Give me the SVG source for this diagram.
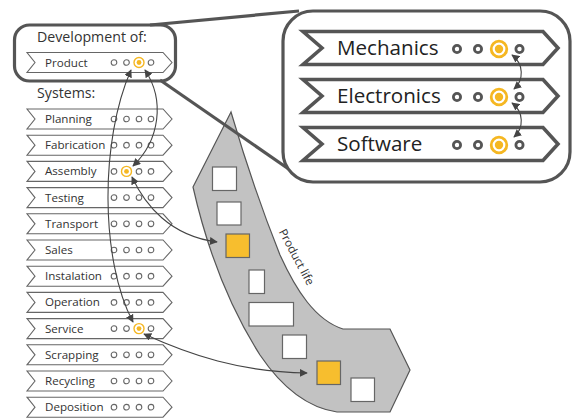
<svg xmlns="http://www.w3.org/2000/svg" width="573" height="418" viewBox="0 0 573 418">
  <style>
    .frame { fill: none; stroke: #555; stroke-width: 3.2; }
    .callout { fill: none; stroke: #555; stroke-width: 3.2; }
    .row { fill: #fff; stroke: #666; stroke-width: 1.1; }
    .bigrow { fill: #fff; stroke: #555; stroke-width: 3.6; }
    .lbl { font-family: "Open Sans", "Liberation Sans", sans-serif; font-size: 11.6px; fill: #333; }
    .head { font-family: "Open Sans", "Liberation Sans", sans-serif; font-size: 14.2px; fill: #333; }
    .big { font-family: "Open Sans", "Liberation Sans", sans-serif; font-size: 20.6px; fill: #222; }
    .dot { fill: #fff; stroke: #666; stroke-width: 1.1; }
    .ring { fill: #fff; stroke: #F5B722; stroke-width: 1.4; }
    .core { fill: #F5B722; }
    .bdot { fill: #fff; stroke: #555; stroke-width: 2.8; }
    .bring { fill: #fff; stroke: #F5B722; stroke-width: 2.8; }
    .link { fill: none; stroke: #444; stroke-width: 1.1; marker-start: url(#ah); marker-end: url(#ah); }
    .life { fill: #C2C2C2; stroke: #555; stroke-width: 1.2; }
    .box { fill: #fff; stroke: #666; stroke-width: 1.2; }
    .hot { fill: #F7BE2E; stroke: #666; stroke-width: 1.2; }
  </style>
  <defs>
    <marker id="ah" viewBox="0 0 10 10" refX="9" refY="5" markerWidth="8" markerHeight="8" markerUnits="userSpaceOnUse" orient="auto-start-reverse">
      <path d="M0,0 L10,5 L0,10 Z" fill="#444"/>
    </marker>
    <path id="chev" d="M0,-10 H136 L145,0 L136,10 H0 L8,0 Z"/>
    <path id="bchev" d="M0,-16.5 H240 L255,0 L240,16.5 H0 L19,0 Z"/>
    <g id="dots4">
      <circle class="dot" cx="114" cy="0" r="2.8"/>
      <circle class="dot" cx="126.5" cy="0" r="2.8"/>
      <circle class="dot" cx="139" cy="0" r="2.8"/>
      <circle class="dot" cx="151" cy="0" r="2.8"/>
    </g>
  </defs>

  <!-- product life band -->
  <g id="product-life">
    <path class="life" d="M231,112 L193,187 C205,240 225,300 260,355 C285,392 310,408 337,412 L390,412 L410,370 L390,329 L343,329 C315,320 296,290 280,255 C262,210 245,160 231,112 Z"/>
    <rect class="box" x="212.5" y="167" width="24" height="23.5"/>
    <rect class="box" x="217" y="202" width="24" height="23"/>
    <rect class="hot" x="226" y="234" width="23.5" height="23.5"/>
    <rect class="box" x="249" y="270" width="15.5" height="23.5"/>
    <rect class="box" x="249" y="302.5" width="44.5" height="23.5"/>
    <rect class="box" x="282.5" y="335" width="24" height="23.5"/>
    <rect class="hot" x="317" y="361" width="23.5" height="23.5"/>
    <rect class="box" x="351" y="378" width="23.5" height="23.5"/>
    <text class="lbl" font-size="13" transform="translate(293 259) rotate(62)" text-anchor="middle">Product life</text>
  </g>

  <!-- callout from the development frame to the detail panel -->
  <g id="callout">
    <line class="callout" x1="150" y1="25" x2="299" y2="11"/>
    <line class="callout" x1="160" y1="80" x2="293" y2="172"/>
    <rect class="frame" x="283" y="11" width="287" height="171" rx="30" ry="30" style="fill:#fff"/>
  </g>

  <!-- development frame -->
  <g id="development">
    <rect class="frame" x="14.5" y="25" width="161" height="56" rx="15" ry="15"/>
    <text class="head" x="37" y="42">Development of:</text>
  </g>

  <g id="product" transform="translate(27 62.5)">
    <use href="#chev" class="row"/>
    <text class="lbl" x="18" y="4">Product</text>
    <g transform="translate(-27 0)">
      <circle class="dot" cx="114" cy="0" r="2.8"/>
      <circle class="dot" cx="126.5" cy="0" r="2.8"/>
      <circle class="ring" cx="139" cy="0" r="5"/>
      <circle class="core" cx="139" cy="0" r="2.4"/>
      <circle class="dot" cx="151" cy="0" r="2.8"/>
    </g>
  </g>

  <text id="systems-title" class="head" x="37" y="98">Systems:</text>

  <!-- system rows -->
  <g id="planning" transform="translate(27 119)"><use href="#chev" class="row"/><text class="lbl" x="18" y="4">Planning</text><use href="#dots4" x="-27"/></g>
  <g id="fabrication" transform="translate(27 145.2)"><use href="#chev" class="row"/><text class="lbl" x="18" y="4">Fabrication</text><use href="#dots4" x="-27"/></g>
  <g id="assembly" transform="translate(27 171.4)"><use href="#chev" class="row"/><text class="lbl" x="18" y="4">Assembly</text>
    <g transform="translate(-27 0)">
      <circle class="dot" cx="114" cy="0" r="2.8"/>
      <circle class="ring" cx="126.5" cy="0" r="5"/>
      <circle class="core" cx="126.5" cy="0" r="2.4"/>
      <circle class="dot" cx="139" cy="0" r="2.8"/>
      <circle class="dot" cx="151" cy="0" r="2.8"/>
    </g>
  </g>
  <g id="testing" transform="translate(27 197.6)"><use href="#chev" class="row"/><text class="lbl" x="18" y="4">Testing</text><use href="#dots4" x="-27"/></g>
  <g id="transport" transform="translate(27 223.8)"><use href="#chev" class="row"/><text class="lbl" x="18" y="4">Transport</text><use href="#dots4" x="-27"/></g>
  <g id="sales" transform="translate(27 250)"><use href="#chev" class="row"/><text class="lbl" x="18" y="4">Sales</text><use href="#dots4" x="-27"/></g>
  <g id="instalation" transform="translate(27 276.2)"><use href="#chev" class="row"/><text class="lbl" x="18" y="4">Instalation</text><use href="#dots4" x="-27"/></g>
  <g id="operation" transform="translate(27 302.4)"><use href="#chev" class="row"/><text class="lbl" x="18" y="4">Operation</text><use href="#dots4" x="-27"/></g>
  <g id="service" transform="translate(27 328.6)"><use href="#chev" class="row"/><text class="lbl" x="18" y="4">Service</text>
    <g transform="translate(-27 0)">
      <circle class="dot" cx="114" cy="0" r="2.8"/>
      <circle class="dot" cx="126.5" cy="0" r="2.8"/>
      <circle class="ring" cx="139" cy="0" r="5"/>
      <circle class="core" cx="139" cy="0" r="2.4"/>
      <circle class="dot" cx="151" cy="0" r="2.8"/>
    </g>
  </g>
  <g id="scrapping" transform="translate(27 354.8)"><use href="#chev" class="row"/><text class="lbl" x="18" y="4">Scrapping</text><use href="#dots4" x="-27"/></g>
  <g id="recycling" transform="translate(27 381)"><use href="#chev" class="row"/><text class="lbl" x="18" y="4">Recycling</text><use href="#dots4" x="-27"/></g>
  <g id="deposition" transform="translate(27 407.2)"><use href="#chev" class="row"/><text class="lbl" x="18" y="4">Deposition</text><use href="#dots4" x="-27"/></g>

  <!-- discipline rows -->
  <g id="mechanics" transform="translate(303 48)">
    <use href="#bchev" class="bigrow"/>
    <text class="big" x="34" y="7">Mechanics</text>
    <circle class="bdot" cx="154" cy="1" r="3.6"/>
    <circle class="bdot" cx="175" cy="1" r="3.6"/>
    <circle class="bring" cx="196" cy="1" r="7.8"/>
    <circle class="core" cx="196" cy="1" r="4.2"/>
    <circle class="bdot" cx="216.5" cy="1" r="3.6"/>
  </g>
  <g id="electronics" transform="translate(303 96)">
    <use href="#bchev" class="bigrow"/>
    <text class="big" x="34" y="7">Electronics</text>
    <circle class="bdot" cx="154" cy="1" r="3.6"/>
    <circle class="bdot" cx="175" cy="1" r="3.6"/>
    <circle class="bring" cx="196" cy="1" r="7.8"/>
    <circle class="core" cx="196" cy="1" r="4.2"/>
    <circle class="bdot" cx="216.5" cy="1" r="3.6"/>
  </g>
  <g id="software" transform="translate(303 144)">
    <use href="#bchev" class="bigrow"/>
    <text class="big" x="34" y="7">Software</text>
    <circle class="bdot" cx="154" cy="1" r="3.6"/>
    <circle class="bdot" cx="175" cy="1" r="3.6"/>
    <circle class="bring" cx="196" cy="1" r="7.8"/>
    <circle class="core" cx="196" cy="1" r="4.2"/>
    <circle class="bdot" cx="216.5" cy="1" r="3.6"/>
  </g>

  <!-- connectors -->
  <g id="connectors">
    <path class="link" d="M131,70 C100,140 100,260 133,322"/>
    <path class="link" d="M145,70 C165,100 160,140 133,166"/>
    <path class="link" d="M132,177 C145,205 170,236 217,242"/>
    <path class="link" d="M144,334 C190,355 240,372 307,373"/>
    <path class="link" d="M512,55 C524,64 524,80 514,89"/>
    <path class="link" d="M512,103 C524,112 524,128 514,137"/>
  </g>
</svg>
